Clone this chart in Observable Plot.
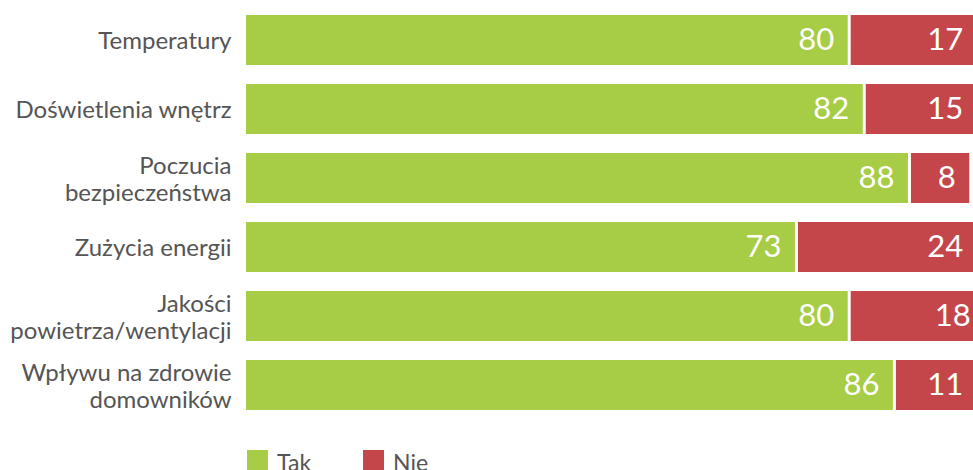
<!DOCTYPE html>
<html><head><meta charset="utf-8">
<script src="https://cdn.jsdelivr.net/npm/d3@7"></script>
<script src="https://cdn.jsdelivr.net/npm/@observablehq/plot@0.6"></script>
<style>
html,body{margin:0;padding:0;background:#fff;overflow:hidden;width:973px;height:470px;}
#chart{position:absolute;left:0;top:0;}
#legend{position:absolute;left:247px;top:450px;display:flex;font-family:Lato,sans-serif;font-size:23px;color:#555;}
.item{display:flex;align-items:flex-start;margin-right:52px;}
.sw{width:21px;height:21px;margin-right:9px;}
.item span{line-height:20px;margin-top:2px;}
</style></head>
<body><div id="chart"></div><div id="legend"></div>
<script>
const categories = ["Temperatury","Doświetlenia wnętrz","Poczucia\nbezpieczeństwa","Zużycia energii","Jakości\npowietrza/wentylacji","Wpływu na zdrowie\ndomowników"];
const tak = [80, 82, 88, 73, 80, 86];
const nie = [17, 15, 8, 24, 18, 11];
const seriesNames = ["Tak", "Nie"];
const seriesColors = ["#a6cd45", "#c5464a"];
const xDomain = [0, 96.5];

const rows = categories.map((c, i) => ({cat: c, tak: tak[i], nie: nie[i], total: tak[i] + nie[i]}));

const plot = Plot.plot({
  width: 973,
  height: 425,
  marginLeft: 246,
  marginRight: 0,
  marginTop: 5.5,
  marginBottom: 5.5,
  style: {fontFamily: "Lato, sans-serif", fontSize: "24px", color: "#555", background: "#fff"},
  x: {domain: xDomain, axis: null},
  y: {domain: categories, paddingInner: 0.275, paddingOuter: 0.1375, label: null},
  marks: [
    Plot.axisY({tickSize: 0, tickPadding: 15, fontSize: 24, lineHeight: 1.12, fill: "#555", label: null}),
    Plot.barX(rows, {y: "cat", x1: 0, x2: "tak", fill: seriesColors[0], insetRight: 1, clip: true}),
    Plot.barX(rows, {y: "cat", x1: "tak", x2: "total", fill: seriesColors[1], insetLeft: 2, clip: true}),
    Plot.text(rows, {y: "cat", x: "tak", text: d => String(d.tak), textAnchor: "end", dx: -15, fill: "#fff", fontSize: 31}),
    Plot.text(rows, {y: "cat", x: "total", text: d => String(d.nie), textAnchor: "end", dx: -14, fill: "#fff", fontSize: 31})
  ]
});
document.getElementById("chart").appendChild(plot);

const leg = document.getElementById("legend");
seriesNames.forEach((n, i) => {
  const it = document.createElement("div"); it.className = "item";
  const sw = document.createElement("div"); sw.className = "sw"; sw.style.background = seriesColors[i];
  const t = document.createElement("span"); t.textContent = n;
  it.appendChild(sw); it.appendChild(t); leg.appendChild(it);
});
</script></body></html>
